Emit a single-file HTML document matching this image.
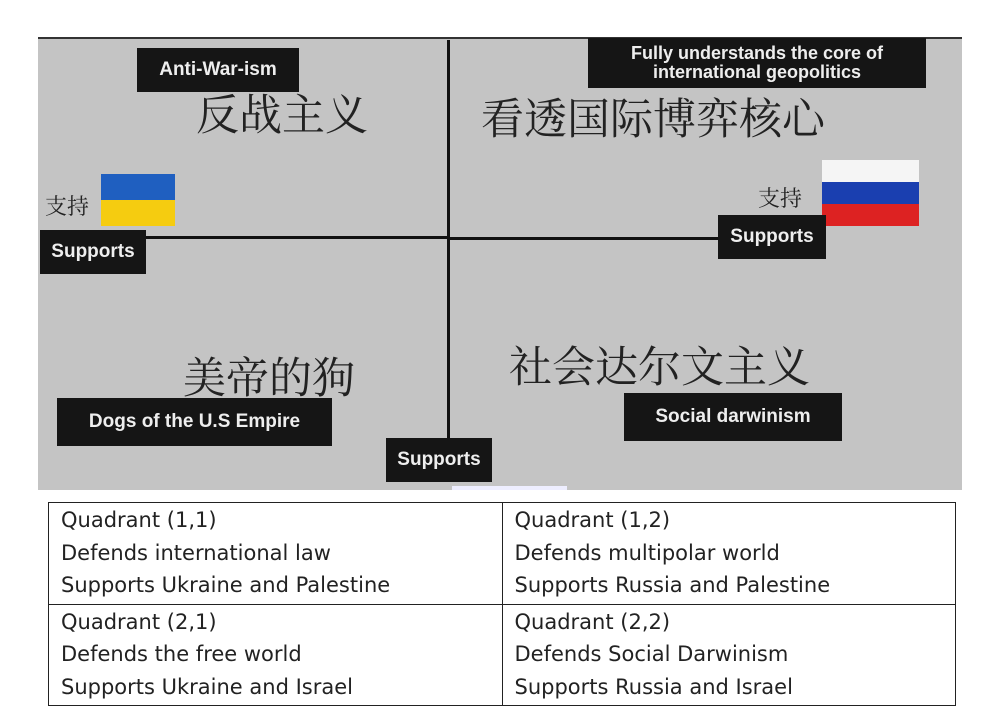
<!DOCTYPE html>
<html><head><meta charset="utf-8"><style>
body{margin:0;width:1000px;height:727px;background:#fff;position:relative;overflow:hidden;font-family:"Liberation Sans",sans-serif}
.a{position:absolute}
.lbl{position:absolute;background:#151515;color:#eee;font-weight:bold;font-size:19px;display:flex;align-items:center;justify-content:center;line-height:1.05;text-align:center}
.zh{position:absolute;font-family:"Noto Serif CJK SC","Liberation Serif",serif;color:#222;font-size:43px;white-space:nowrap}
table{position:absolute;left:48px;top:502px;width:908px;border-collapse:collapse;font-family:"DejaVu Sans","Liberation Sans",sans-serif;font-size:21px;color:#222}
td{border:1.5px solid #222;padding:1px 12px 2px;vertical-align:top;line-height:32.5px;width:50%}
</style></head><body>
<div class="a" style="left:38px;top:38px;width:924px;height:452px;background:#c4c4c4"></div>
<div class="a" style="left:38px;top:37px;width:924px;height:2px;background:#333"></div>
<div class="a" style="left:447px;top:40px;width:3px;height:400px;background:#111"></div>
<div class="a" style="left:145px;top:236px;width:305px;height:3px;background:#111"></div>
<div class="a" style="left:450px;top:237px;width:280px;height:3px;background:#111"></div>
<div class="lbl" style="left:137px;top:48px;width:162px;height:44px">Anti-War-ism</div>
<div class="zh" style="left:196px;top:82px">反战主义</div>
<div class="lbl" style="left:588px;top:38px;width:338px;height:50px;font-size:18px">Fully understands the core of<br>international geopolitics</div>
<div class="zh" style="left:481px;top:86px">看透国际博弈核心</div>
<div class="zh" style="left:45px;top:190px;font-size:22px">支持</div>
<div class="a" style="left:101px;top:174px;width:74px;height:26px;background:#1f5fc0"></div>
<div class="a" style="left:101px;top:200px;width:74px;height:26px;background:#f5cc10"></div>
<div class="lbl" style="left:40px;top:230px;width:106px;height:44px">Supports</div>
<div class="zh" style="left:758px;top:182px;font-size:22px">支持</div>
<div class="a" style="left:822px;top:160px;width:97px;height:22px;background:#f5f5f5"></div>
<div class="a" style="left:822px;top:182px;width:97px;height:22px;background:#1a3fb0"></div>
<div class="a" style="left:822px;top:204px;width:97px;height:22px;background:#d22"></div>
<div class="lbl" style="left:718px;top:215px;width:108px;height:44px">Supports</div>
<div class="zh" style="left:183px;top:345px">美帝的狗</div>
<div class="zh" style="left:509px;top:334px">社会达尔文主义</div>
<div class="lbl" style="left:57px;top:398px;width:275px;height:48px">Dogs of the U.S Empire</div>
<div class="lbl" style="left:624px;top:393px;width:218px;height:48px">Social darwinism</div>
<div class="lbl" style="left:386px;top:438px;width:106px;height:44px">Supports</div>
<div class="a" style="left:452px;top:486px;width:115px;height:4px;background:#eef"></div>
<table>
<tr><td>Quadrant (1,1)<br>Defends international law<br>Supports Ukraine and Palestine</td><td>Quadrant (1,2)<br>Defends multipolar world<br>Supports Russia and Palestine</td></tr>
<tr><td>Quadrant (2,1)<br>Defends the free world<br>Supports Ukraine and Israel</td><td>Quadrant (2,2)<br>Defends Social Darwinism<br>Supports Russia and Israel</td></tr>
</table>
</body></html>
